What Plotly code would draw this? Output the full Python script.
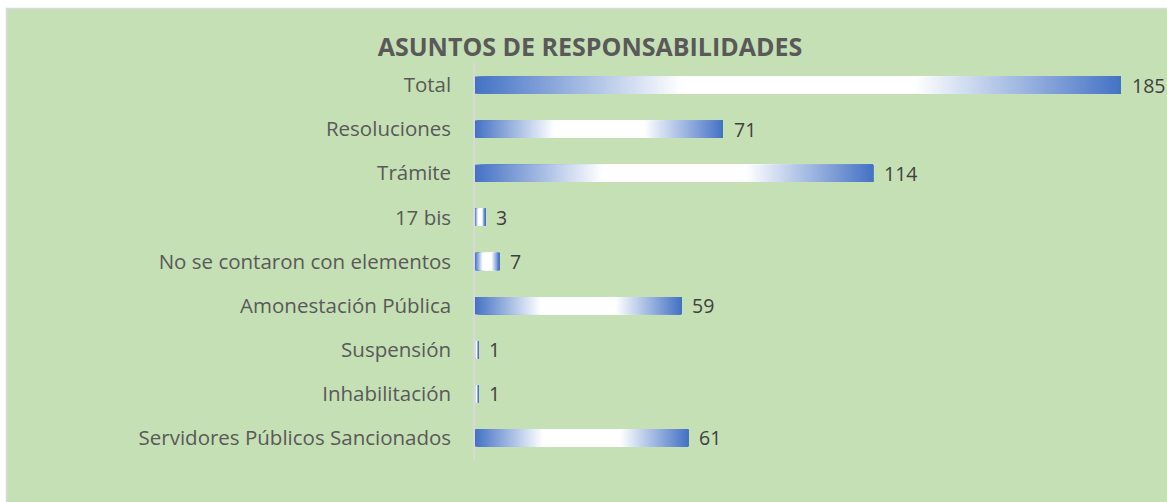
import plotly.graph_objects as go

categories = ["Total", "Resoluciones", "Trámite", "17 bis", "No se contaron con elementos",
              "Amonestación Pública", "Suspensión", "Inhabilitación", "Servidores Públicos Sancionados"]
values = [185, 71, 114, 3, 7, 59, 1, 1, 61]
title_text = "ASUNTOS DE RESPONSABILIDADES"

W, H = 1167, 502
ML, MR, MT, MB = 475, 46, 63, 42
GREEN = "#C5E0B4"
BLUE = (68, 114, 196)
N = 240


def grad_color(t):
    # blue at both ends, white band in the middle
    d = min(t, 1 - t)
    f = min(d / 0.32, 1.0)
    r = [round(b + (255 - b) * f) for b in BLUE]
    return f"rgb({r[0]},{r[1]},{r[2]})"


fig = go.Figure()
# each layer spans from its start to the bar end; later layers cover the rest,
# so the visible result is a smooth left-to-right gradient without seams
for k in range(N):
    t = (k + 0.5) / N
    fig.add_trace(go.Bar(
        y=categories,
        x=[v * (N - k) / N for v in values],
        base=[v * k / N for v in values],
        orientation="h",
        width=0.39,
        marker=dict(color=grad_color(t), line=dict(width=0)),
        showlegend=False,
        hoverinfo="skip",
    ))

for c, v in zip(categories, values):
    fig.add_annotation(x=v, y=c, text=str(v), showarrow=False, xanchor="left",
                       xshift=9, font=dict(family="Open Sans", size=19.5, color="#404040"))

pw = W - ML - MR
ph = H - MT - MB
fig.add_shape(type="rect", xref="paper", yref="paper",
              x0=(6.5 - ML) / pw, x1=(W + 5 - ML) / pw,
              y0=-(MB + 5) / ph, y1=(H - 8.5 - MB) / ph,
              line=dict(color="#D9D9D9", width=1.5), fillcolor=GREEN, layer="below")

fig.update_layout(
    width=W, height=H,
    margin=dict(l=ML, r=MR, t=MT, b=MB),
    paper_bgcolor="white",
    plot_bgcolor="rgba(0,0,0,0)",
    barmode="overlay",
    title=dict(text=f"<b>{title_text}</b>", x=590 / W, xanchor="center",
               y=1 - 47 / H, yanchor="middle",
               font=dict(family="Open Sans", size=25, color="#595959")),
    xaxis=dict(range=[0, 185], visible=False, showgrid=False, zeroline=False),
    yaxis=dict(autorange="reversed", showline=True, linecolor="#D9D9D9", linewidth=1.5,
               ticks="", showgrid=False, ticklabelstandoff=18,
               tickfont=dict(family="Open Sans", size=20.5, color="#595959")),
    font=dict(family="Open Sans"),
)

fig.write_html("out.html")
